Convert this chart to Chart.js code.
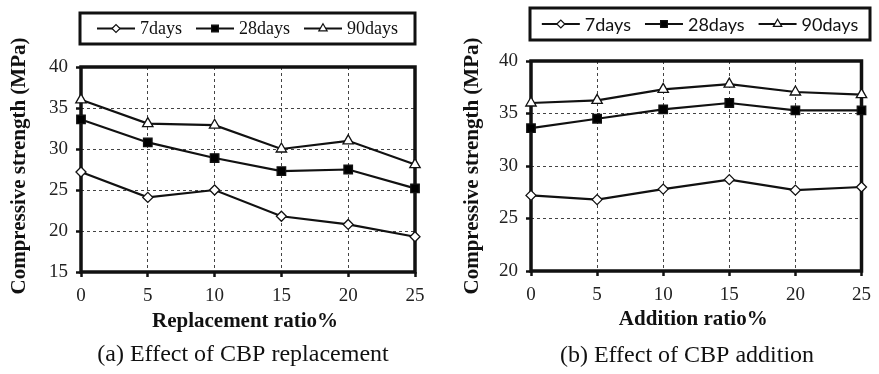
<!DOCTYPE html>
<html>
<head>
<meta charset="utf-8">
<script src="https://cdn.jsdelivr.net/npm/chart.js@4/dist/chart.umd.min.js"></script>
<style>
  html, body { margin: 0; padding: 0; background: #fff; }
  #wrap { position: relative; width: 879px; height: 374px; overflow: hidden; }
  canvas { position: absolute; top: 0; }
  #cA { left: 0; }
  #cB { left: 440px; }
</style>
</head>
<body>
<div id="wrap">
  <canvas id="cA" width="440" height="374"></canvas>
  <canvas id="cB" width="439" height="374"></canvas>
</div>
<script>
// ---- data ----
const ratios = [0, 5, 10, 15, 20, 25];
const seriesNames = ['7days', '28days', '90days'];

const replace7  = [27.2, 24.1, 25.0, 21.8, 20.8, 19.3];
const replace28 = [33.6, 30.8, 28.9, 27.3, 27.5, 25.2];
const replace90 = [36.0, 33.1, 32.9, 30.0, 31.0, 28.1];

const add7  = [27.2, 26.8, 27.8, 28.7, 27.7, 28.0];
const add28 = [33.6, 34.5, 35.4, 36.0, 35.3, 35.3];
const add90 = [36.0, 36.25, 37.3, 37.8, 37.05, 36.8];

const yTicksA = [15, 20, 25, 30, 35, 40];
const yTicksB = [20, 25, 30, 35, 40];
const xTicks = [0, 5, 10, 15, 20, 25];

const yTitle = 'Compressive strength (MPa)';
const xTitleA = 'Replacement ratio%';
const xTitleB = 'Addition ratio%';
const captionA = '(a) Effect of CBP replacement';
const captionB = '(b) Effect of CBP addition';

// ---- styles ----
const SERIF = '"Liberation Serif", "Times New Roman", serif';
const SANS = 'Lato, "Open Sans", sans-serif';
const markerStyles = [
  { pointStyle: 'rectRot', radius: 5, fill: '#fff' },
  { pointStyle: 'rect', radius: 6, fill: '#000' },
  { pointStyle: 'triangle', radius: 6, fill: '#fff' }
];

function makeDatasets(arrs) {
  return arrs.map((vals, i) => ({
    label: seriesNames[i],
    data: vals.map((v, j) => ({ x: ratios[j], y: v })),
    borderColor: '#111',
    borderWidth: 2.2,
    pointStyle: markerStyles[i].pointStyle,
    pointRadius: markerStyles[i].radius,
    pointHoverRadius: markerStyles[i].radius,
    pointBackgroundColor: markerStyles[i].fill,
    pointBorderColor: '#111',
    pointBorderWidth: 1.3,
    tension: 0,
    fill: false,
    clip: false
  }));
}

function decorPlugin(cfg) {
  return {
    id: 'decor',
    beforeDatasetsDraw(chart) {
      const ctx = chart.ctx;
      const a = chart.chartArea;
      ctx.save();
      ctx.strokeStyle = '#111';
      ctx.lineWidth = 3.5;
      ctx.strokeRect(a.left, a.top, a.right - a.left, a.bottom - a.top);
      ctx.restore();
    },
    afterDraw(chart) {
      const ctx = chart.ctx;
      const a = chart.chartArea;
      ctx.save();
      ctx.fillStyle = '#111';
      // y title
      ctx.save();
      ctx.translate(cfg.yTitleX, cfg.yTitleY);
      ctx.rotate(-Math.PI / 2);
      ctx.font = 'bold 21px ' + SERIF;
      ctx.textAlign = 'center';
      ctx.textBaseline = 'middle';
      ctx.fillText(yTitle, 0, 0);
      ctx.restore();
      // x title
      ctx.font = 'bold 21px ' + SERIF;
      ctx.textAlign = 'center';
      ctx.textBaseline = 'middle';
      ctx.fillText(cfg.xTitle, (a.left + a.right) / 2 - 3, cfg.xTitleY);
      // caption
      ctx.font = '24px ' + SERIF;
      ctx.fillText(cfg.caption, cfg.captionX, cfg.captionY);
      // legend box
      const lb = cfg.legendBox;
      ctx.strokeStyle = '#111';
      ctx.lineWidth = 3;
      ctx.strokeRect(lb.x, lb.y, lb.w, lb.h);
      ctx.font = cfg.legendFont;
      ctx.textAlign = 'left';
      const lineLen = 38, gapText = 5, gapItem = 14;
      const widths = seriesNames.map(n => ctx.measureText(n).width);
      let total = 0;
      widths.forEach((w, i) => { total += lineLen + gapText + w + (i < widths.length - 1 ? gapItem : 0); });
      let x = lb.x + (lb.w - total) / 2;
      const cy = lb.y + lb.h / 2;
      chart.data.datasets.forEach((ds, i) => {
        ctx.beginPath();
        ctx.strokeStyle = '#111';
        ctx.lineWidth = 2;
        ctx.moveTo(x, cy);
        ctx.lineTo(x + lineLen, cy);
        ctx.stroke();
        ctx.fillStyle = ds.pointBackgroundColor;
        ctx.strokeStyle = '#111';
        ctx.lineWidth = 1.2;
        Chart.helpers.drawPoint(ctx, { pointStyle: ds.pointStyle, radius: ds.pointRadius * 0.8, borderWidth: 1.2, rotation: 0 }, x + lineLen / 2, cy);
        ctx.fillStyle = '#111';
        ctx.textBaseline = 'middle';
        ctx.fillText(ds.label, x + lineLen + gapText, cy + 1);
        x += lineLen + gapText + widths[i] + gapItem;
      });
      ctx.restore();
    }
  };
}

function makeChart(id, arrs, yTicks, layout, cfg) {
  const yMin = yTicks[0], yMax = yTicks[yTicks.length - 1];
  return new Chart(document.getElementById(id), {
    type: 'line',
    data: { datasets: makeDatasets(arrs) },
    options: {
      responsive: false,
      animation: false,
      events: [],
      layout: { padding: { left: 0, right: layout.right, top: layout.top, bottom: 0 } },
      plugins: { legend: { display: false }, tooltip: { enabled: false } },
      scales: {
        x: {
          type: 'linear',
          min: xTicks[0], max: xTicks[xTicks.length - 1],
          afterBuildTicks(s) { s.ticks = xTicks.map(v => ({ value: v })); },
          afterFit(s) { s.height = layout.xH; },
          grid: { color: '#444', lineWidth: 1, tickLength: 5, tickColor: '#111', tickWidth: 2.5, drawTicks: true },
          border: { display: false, dash: [3, 3] },
          ticks: { color: '#222', font: { family: SERIF, size: 19 }, padding: 8, maxRotation: 0 }
        },
        y: {
          type: 'linear',
          min: yMin, max: yMax,
          afterBuildTicks(s) { s.ticks = yTicks.map(v => ({ value: v })); },
          afterFit(s) { s.width = layout.yW; },
          grid: { color: '#444', lineWidth: 1, tickLength: 5, tickColor: '#111', tickWidth: 2.5, drawTicks: true },
          border: { display: false, dash: [3, 3] },
          ticks: { color: '#222', font: { family: SERIF, size: 19 }, padding: 8 }
        }
      }
    },
    plugins: [decorPlugin(cfg)]
  });
}

makeChart('cA', [replace7, replace28, replace90], yTicksA,
  { right: 25, top: 67, xH: 102, yW: 81 },
  { yTitleX: 20, yTitleY: 166, xTitle: xTitleA, xTitleY: 322, caption: captionA, captionX: 243, captionY: 355,
    legendBox: { x: 80, y: 13, w: 335, h: 31 }, legendFont: '18px ' + SERIF });

makeChart('cB', [add7, add28, add90], yTicksB,
  { right: 10, top: 61, xH: 103, yW: 91 },
  { yTitleX: 33, yTitleY: 166, xTitle: xTitleB, xTitleY: 320, caption: captionB, captionX: 247, captionY: 356,
    legendBox: { x: 90, y: 8, w: 340, h: 32 }, legendFont: '18px ' + SANS });
</script>
</body>
</html>
